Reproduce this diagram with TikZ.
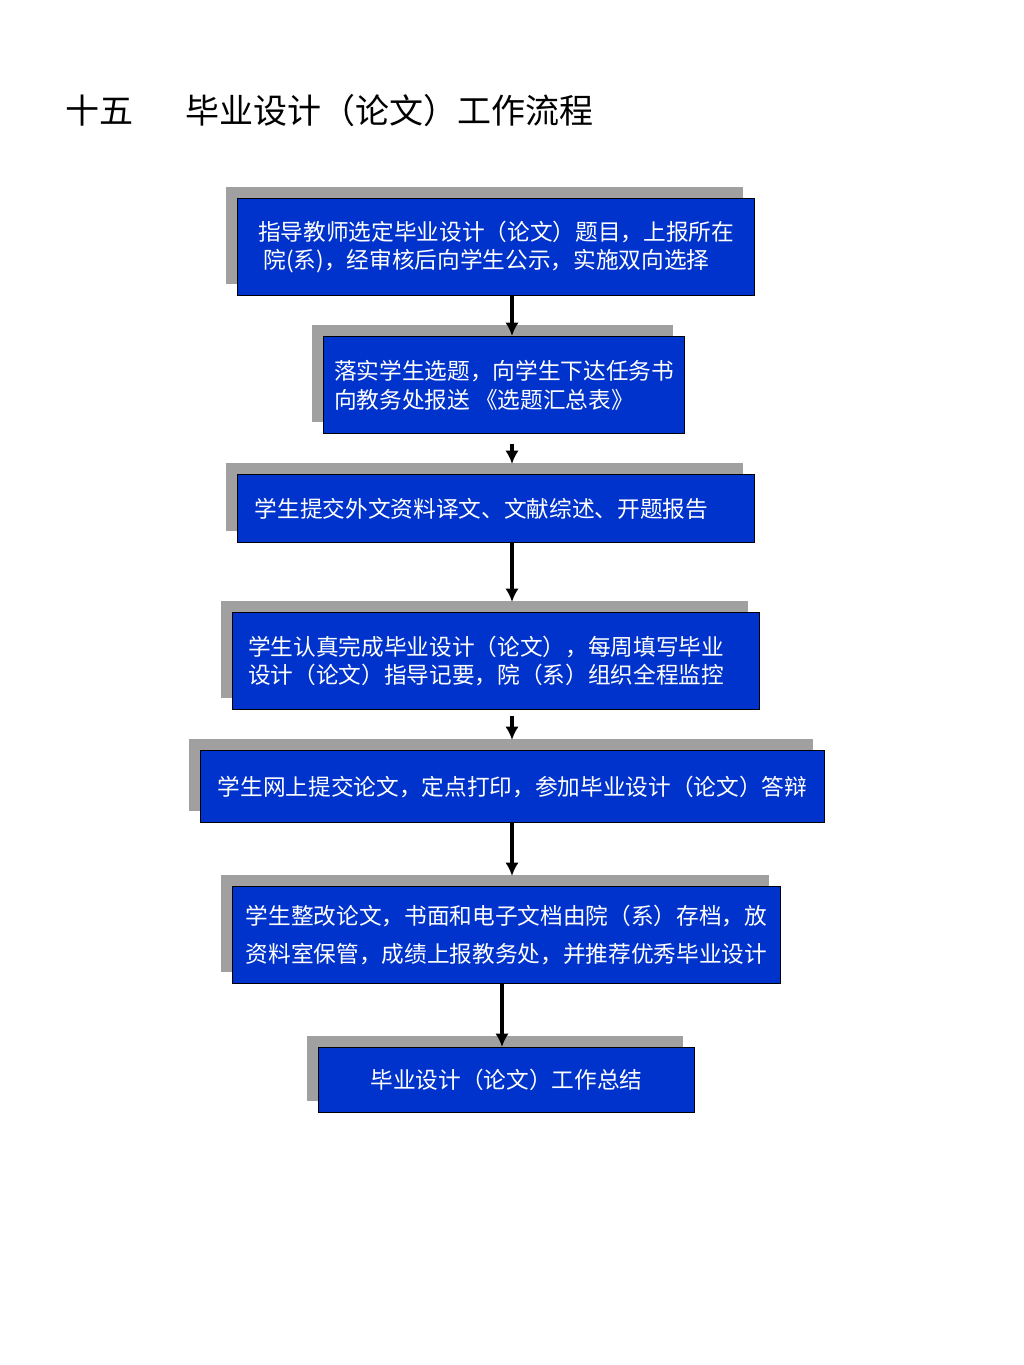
\documentclass[tikz,border=0pt]{standalone}
\usepackage{fontspec}
\setmainfont{Noto Sans CJK SC}
\usepackage{tikz}
\usetikzlibrary{shapes,arrows.meta,shadows}

\definecolor{boxblue}{RGB}{0,51,204}
\definecolor{shadowgray}{RGB}{160,160,160}
\newdimen\px \px=0.75pt

\tikzset{
  stepbox/.style={draw=black, line width=0.9pt, fill=boxblue, text=white, align=left,
    anchor=north west, inner sep=0pt, font=\fontsize{17pt}{21.5pt}\selectfont,
    drop shadow={shadow xshift=-9pt, shadow yshift=8.5pt, fill=shadowgray, opacity=1}},
  flowarrow/.style={line width=3pt, -{Latex[length=10pt,width=10pt]}, shorten >=7.5pt}
}

\begin{document}
\begin{tikzpicture}[x=0.75pt,y=0.75pt,yscale=-1,xscale=1]
    \useasboundingbox (0,0) rectangle (1024,1365);

    % Text Node
    \node [anchor=west, inner sep=0pt, font=\fontsize{25.5pt}{30pt}\selectfont] (num) at (65,111) {十五};
    % Text Node
    \node [anchor=west, inner sep=0pt, font=\fontsize{25.5pt}{30pt}\selectfont] (title) at (185,111) {毕业设计（论文）工作流程};

    %Shape: Rectangle
    \node [stepbox, minimum width=517\px, minimum height=97\px] (b1) at (237,198)
      {指导教师选定毕业设计（论文）题目，上报所在\\\hspace*{4pt}院(系)，经审核后向学生公示，实施双向选择\hspace*{6pt}};
    %Shape: Rectangle
    \node [stepbox, minimum width=361\px, minimum height=97\px] (b2) at (323,336)
      {落实学生选题，向学生下达任务书\\向教务处报送 《选题汇总表》};
    %Shape: Rectangle
    \node [stepbox, minimum width=517\px, minimum height=68\px] (b3) at (237,474)
      {学生提交外文资料译文、文献综述、开题报告\hspace*{22pt}};
    %Shape: Rectangle
    \node [stepbox, minimum width=527\px, minimum height=97\px] (b4) at (232,612)
      {学生认真完成毕业设计（论文），每周填写毕业\hspace*{15pt}\\设计（论文）指导记要，院（系）组织全程监控};
    %Shape: Rectangle
    \node [stepbox, minimum width=624\px, minimum height=72\px] (b5) at (200,750)
      {学生网上提交论文，定点打印，参加毕业设计（论文）答辩};
    %Shape: Rectangle
    \node [stepbox, minimum width=548\px, minimum height=97\px, font=\fontsize{17pt}{29pt}\selectfont] (b6) at (232,886)
      {学生整改论文，书面和电子文档由院（系）存档，放\\资料室保管，成绩上报教务处，并推荐优秀毕业设计};
    %Shape: Rectangle
    \node [stepbox, minimum width=376\px, minimum height=65\px] (b7) at (318,1047)
      {毕业设计（论文）工作总结};

    %Straight Lines
    \coordinate (ax) at (512,0);
    \coordinate (bx) at (502,0);
    \draw [flowarrow, shorten >=0pt] (b1.south -| ax) -- (b2.north -| ax);
    \draw [flowarrow] ([yshift=7pt]b2.south -| ax) -- (b3.north -| ax);
    \draw [flowarrow] (b3.south -| ax) -- (b4.north -| ax);
    \draw [flowarrow] ([yshift=4pt]b4.south -| ax) -- (b5.north -| ax);
    \draw [flowarrow] (b5.south -| ax) -- (b6.north -| ax);
    \draw [flowarrow, shorten >=0pt] (b6.south -| bx) -- (b7.north -| bx);

\end{tikzpicture}
\end{document}
